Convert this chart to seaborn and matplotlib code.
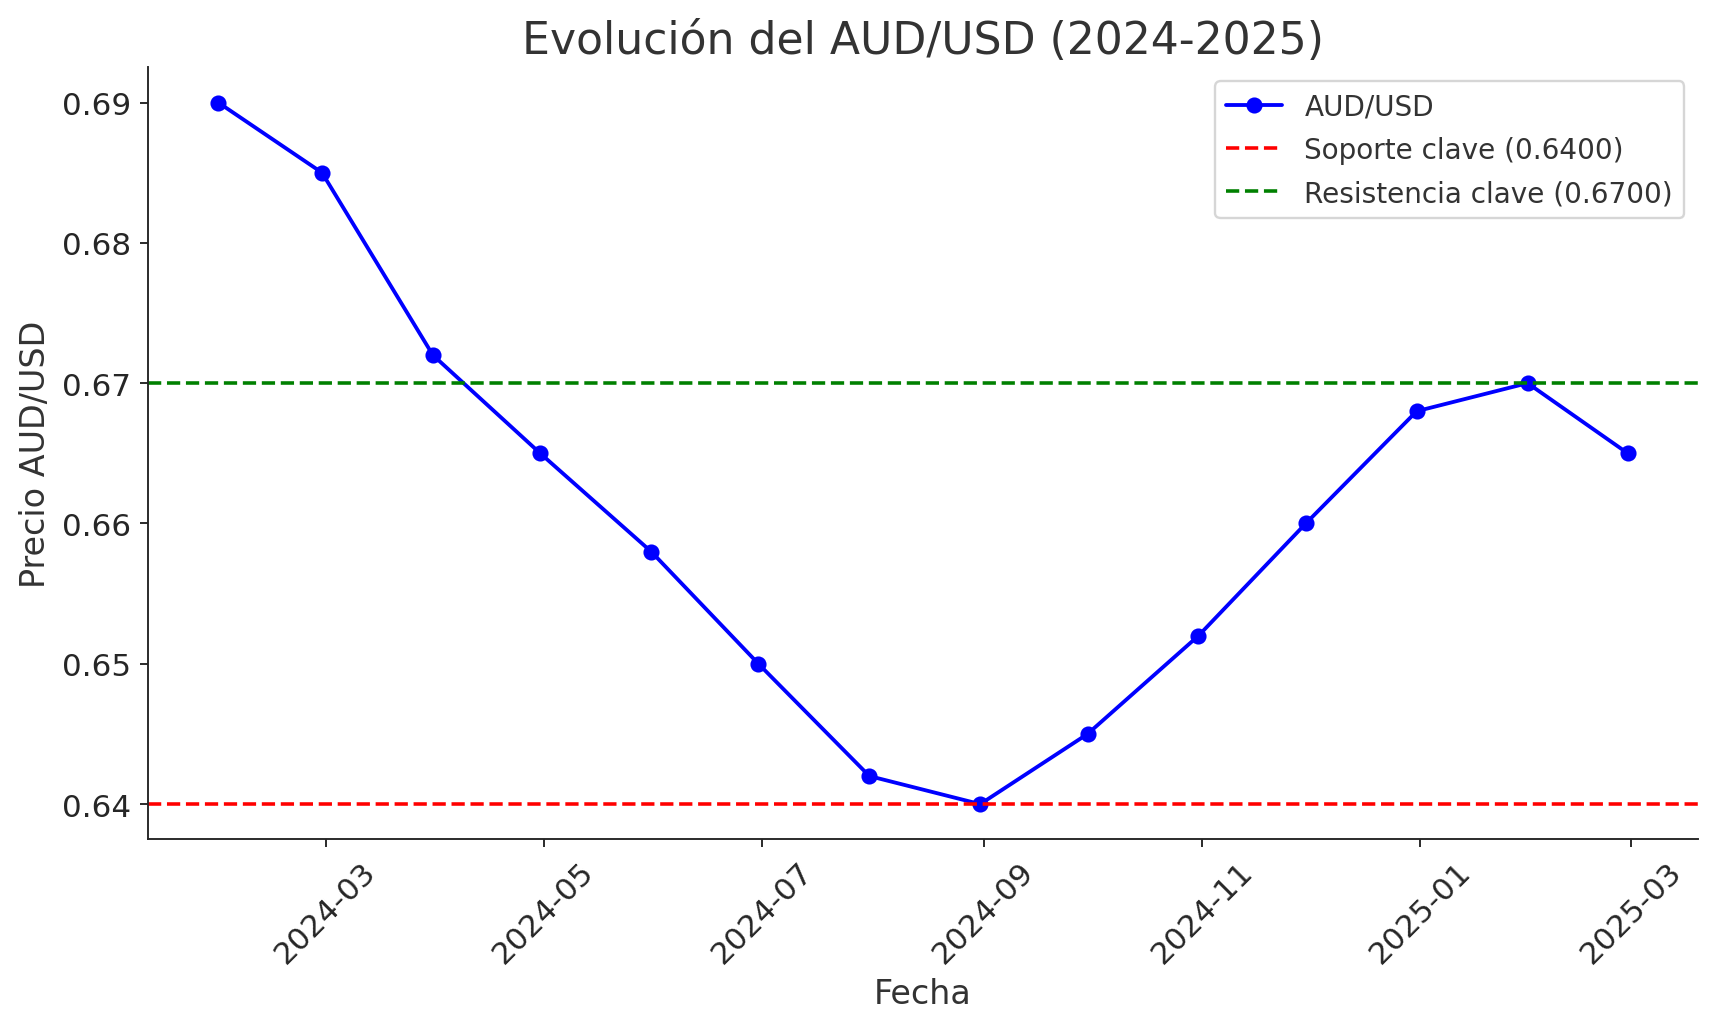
import matplotlib
matplotlib.use("Agg")
import matplotlib.pyplot as plt
import seaborn as sns
import pandas as pd

# Datos
fechas = pd.date_range("2024-01-31", periods=14, freq="ME")
precios = [0.690, 0.685, 0.672, 0.665, 0.658, 0.650, 0.642,
           0.640, 0.645, 0.652, 0.660, 0.668, 0.670, 0.665]
soporte = 0.6400
resistencia = 0.6700

sns.set_style("ticks")
plt.rcParams['font.family'] = ['DejaVu Sans']
plt.rcParams['text.color'] = '#333333'
plt.rcParams['axes.labelcolor'] = '#333333'

df = pd.DataFrame({"Fecha": fechas, "Precio": precios})

fig, ax = plt.subplots(figsize=(10, 6.03), dpi=171.8)
sns.lineplot(data=df, x="Fecha", y="Precio", marker="o", color="blue",
             markeredgecolor="blue", markersize=6, linewidth=1.6,
             label="AUD/USD", ax=ax)
ax.axhline(soporte, color="red", linestyle="--", linewidth=1.5,
           label=f"Soporte clave ({soporte:.4f})")
ax.axhline(resistencia, color="green", linestyle="--", linewidth=1.5,
           label=f"Resistencia clave ({resistencia:.4f})")

ax.set_title("Evolución del AUD/USD (2024-2025)", fontsize=18.5)
ax.set_xlabel("Fecha", fontsize=14)
ax.set_ylabel("Precio AUD/USD", fontsize=14)
ax.tick_params(axis="both", labelsize=13)
plt.setp(ax.get_xticklabels(), rotation=45)
ax.legend(loc="upper right", fontsize=11.7, labelcolor="#333333",
          labelspacing=0.55)
sns.despine(ax=ax)

fig.subplots_adjust(left=0.086, right=0.9885, top=0.934, bottom=0.189)
plt.savefig("out.png")
